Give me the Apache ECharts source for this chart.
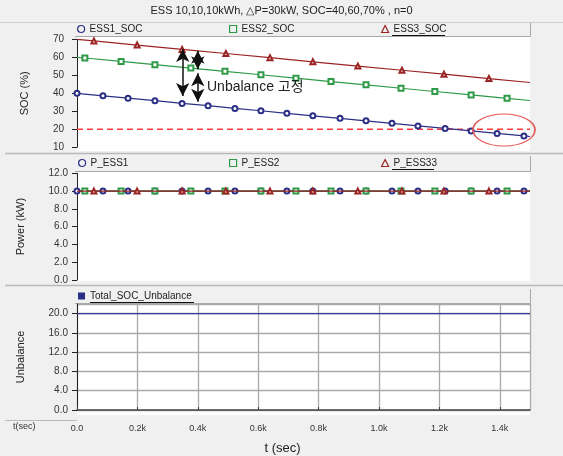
<!DOCTYPE html>
<html>
<head>
<meta charset="utf-8">
<script src="https://cdn.jsdelivr.net/npm/echarts@6/dist/echarts.min.js"></script>
<style>
  html, body { margin: 0; padding: 0; background: #f0f0f0; }
  #main { width: 563px; height: 456px; }
</style>
</head>
<body>
<div id="main"></div>
<script>
// time axis ticks (sec)
const xTicks = [0, 200, 400, 600, 800, 1000, 1200, 1400];

const ess1T = [0, 86, 169, 258, 348, 434, 523, 609, 695, 781, 871, 957, 1043, 1129, 1219, 1305, 1391, 1480, 1500];
const ess1V = [40.0, 38.6, 37.3, 35.9, 34.4, 33.1, 31.6, 30.3, 28.9, 27.5, 26.1, 24.7, 23.3, 21.9, 20.5, 19.1, 17.7, 16.3, 16.0];
const ess2T = [0, 26, 146, 258, 377, 490, 609, 725, 841, 957, 1073, 1185, 1305, 1424, 1500];
const ess2V = [60.0, 59.6, 57.7, 55.9, 54.0, 52.2, 50.3, 48.4, 46.5, 44.7, 42.8, 41.0, 39.1, 37.2, 36.0];
const ess3T = [0, 56, 199, 348, 493, 639, 781, 930, 1076, 1215, 1364, 1500];
const ess3V = [70.0, 69.1, 66.8, 64.4, 62.1, 59.8, 57.5, 55.1, 52.8, 50.6, 48.2, 46.0];

// power (kW)
const p1V = [10.0, 10.0, 10.0, 10.0, 10.0, 10.0, 10.0, 10.0, 10.0, 10.0, 10.0, 10.0, 10.0, 10.0, 10.0, 10.0, 10.0, 10.0, 10.0];
const p2V = [10.0, 10.0, 10.0, 10.0, 10.0, 10.0, 10.0, 10.0, 10.0, 10.0, 10.0, 10.0, 10.0, 10.0, 10.0];
const p3V = [10.0, 10.0, 10.0, 10.0, 10.0, 10.0, 10.0, 10.0, 10.0, 10.0, 10.0, 10.0];

// total unbalance
const unbT = [0, 1500];
const unbV = [20.0, 20.0];

// SOC lower limit (red dashed)
const limitT = [0, 1500];
const limitV = [20, 20];

// annotation arrows (data coords)
const arrows = [
  [[350, 64.6], [350, 38.5]],
  [[400, 63.7], [400, 53.3]],
  [[400, 51.1], [400, 35.3]]
];

const FONT = 'Liberation Sans';
const C1 = '#2b2f86', C2 = '#2f9a48', C3 = '#9b2424';

// markers are drawn on every point except the ones listed in noMark
function pts(ts, vs, noMark) {
  return ts.map((t, i) => noMark.indexOf(i) >= 0
    ? { value: [t, vs[i]], symbol: 'none' }
    : [t, vs[i]]);
}

function yAxisBase(gi, name, min, max, interval, fmt, margin) {
  return {
    gridIndex: gi, type: 'value', min: min, max: max, interval: interval,
    name: name, nameLocation: 'middle', nameGap: gi === 0 ? 47 : 51, nameRotate: 90,
    nameTextStyle: { fontFamily: FONT, fontSize: 11, color: '#222' },
    axisLine: { show: true, lineStyle: { color: '#222', width: 1 } },
    axisTick: { show: true, length: 5, lineStyle: { color: '#222' } },
    axisLabel: { fontFamily: FONT, fontSize: 10, color: '#333', margin: margin, formatter: fmt, showMaxLabel: max % interval === 0 },
    splitLine: { show: gi === 2, lineStyle: { color: '#aaaaaa', width: 1.3 } }
  };
}

function lineSeries(name, xi, ts, vs, noMark, color, symbol, z) {
  return {
    name: name, type: 'line', xAxisIndex: xi, yAxisIndex: xi,
    data: pts(ts, vs, noMark),
    symbol: symbol, symbolSize: 5, showAllSymbol: true,
    lineStyle: { color: color, width: 1.2 },
    itemStyle: { color: color, borderColor: color, borderWidth: 1 },
    z: z, animation: false
  };
}

function legendAt(name, x, y, color, icon, filled) {
  return {
    data: [name], left: x, top: y, padding: 0, itemWidth: 7, itemHeight: 7,
    icon: icon,
    itemStyle: filled ? { color: color } : { color: 'rgba(0,0,0,0)', borderColor: color, borderWidth: 1.2 },
    textStyle: { fontFamily: FONT, fontSize: 10, color: '#222' },
    selectedMode: false
  };
}

const chart = echarts.init(document.getElementById('main'));

const bg = [
  { type: 'line', shape: { x1: 0, y1: 22.5, x2: 563, y2: 22.5 }, style: { stroke: '#cfcfcf', lineWidth: 1 } },
  // legend bars
  { type: 'rect', shape: { x: 75, y: 23, width: 456, height: 14 }, style: { fill: '#eff0ef' } },
  { type: 'polyline', shape: { points: [[75, 36.5], [530.5, 36.5], [530.5, 23]] }, style: { stroke: '#a8a8a8', fill: null, lineWidth: 1 } },
  { type: 'rect', shape: { x: 75, y: 156, width: 456, height: 16 }, style: { fill: '#eff0ef' } },
  { type: 'polyline', shape: { points: [[75, 171.5], [530.5, 171.5], [530.5, 156]] }, style: { stroke: '#a8a8a8', fill: null, lineWidth: 1 } },
  { type: 'rect', shape: { x: 75, y: 289, width: 456, height: 15 }, style: { fill: '#eff0ef' } },
  { type: 'polyline', shape: { points: [[75, 303.5], [530.5, 303.5], [530.5, 289]] }, style: { stroke: '#a8a8a8', fill: null, lineWidth: 1 } },
  // white plot areas
  { type: 'rect', shape: { x: 77, y: 37, width: 453, height: 114 }, style: { fill: '#ffffff' } },
  { type: 'rect', shape: { x: 77, y: 172, width: 453, height: 109 }, style: { fill: '#ffffff' } },
  { type: 'rect', shape: { x: 77, y: 304, width: 453, height: 111 }, style: { fill: '#ffffff' } },
  // panel separators
  { type: 'line', shape: { x1: 5, y1: 153.5, x2: 563, y2: 153.5 }, style: { stroke: '#b9b9b9', lineWidth: 1.5 } },
  { type: 'line', shape: { x1: 5, y1: 285.5, x2: 563, y2: 285.5 }, style: { stroke: '#b9b9b9', lineWidth: 1.5 } },
  { type: 'line', shape: { x1: 5, y1: 420.5, x2: 77, y2: 420.5 }, style: { stroke: '#b9b9b9', lineWidth: 1 } }
];

const fg = [
  { type: 'text', x: 207, y: 80, style: { text: 'Unbalance 고정', fontFamily: 'Liberation Sans, Noto Sans CJK KR', fontSize: 14, fill: '#222' } },
  { type: 'circle', x: 504, y: 130, scaleX: 31 / 16, shape: { cx: 0, cy: 0, r: 16 }, style: { stroke: '#e65a5a', fill: null, lineWidth: 0.9 } },
  { type: 'text', x: 13, y: 422, style: { text: 't(sec)', fontFamily: FONT, fontSize: 9, fill: '#333' } },
  // underlines of the selected legend items
  { type: 'line', shape: { x1: 392, y1: 35.5, x2: 445, y2: 35.5 }, style: { stroke: '#111', lineWidth: 1 } },
  { type: 'line', shape: { x1: 392, y1: 169.5, x2: 434, y2: 169.5 }, style: { stroke: '#111', lineWidth: 1 } },
  { type: 'line', shape: { x1: 90, y1: 302.5, x2: 194, y2: 302.5 }, style: { stroke: '#111', lineWidth: 1 } }
];

const option = {
  animation: false,
  backgroundColor: '#f0f0f0',
  title: {
    text: 'ESS 10,10,10kWh, △P=30kW, SOC=40,60,70% , n=0',
    left: 'center', top: 5, padding: 0,
    textStyle: { fontFamily: FONT, fontSize: 11, fontWeight: 'normal', color: '#222' }
  },
  graphic: {
    elements: bg.map(e => Object.assign({ z: -10, silent: true }, e))
      .concat(fg.map(e => Object.assign({ z: 100, silent: true }, e)))
  },
  legend: [
    legendAt('ESS1_SOC', 77, 24, C1, 'circle', false),
    legendAt('ESS2_SOC', 229, 24, C2, 'rect', false),
    legendAt('ESS3_SOC', 381, 24, C3, 'triangle', false),
    legendAt('P_ESS1', 78, 158, C1, 'circle', false),
    legendAt('P_ESS2', 229, 158, C2, 'rect', false),
    legendAt('P_ESS33', 381, 158, C3, 'triangle', false),
    legendAt('Total_SOC_Unbalance', 78, 291, C1, 'rect', true)
  ],
  grid: [
    { left: 77, width: 453, top: 39.3, height: 108 },
    { left: 77, width: 453, top: 173.3, height: 106.7 },
    { left: 77, width: 453, top: 304, height: 109.3 }
  ],
  xAxis: [
    { gridIndex: 0, type: 'value', min: 0, max: 1500, show: false },
    { gridIndex: 1, type: 'value', min: 0, max: 1500, show: false },
    {
      gridIndex: 2, type: 'value', min: xTicks[0], max: 1500, interval: 200, offset: 9,
      name: 't (sec)', nameLocation: 'middle', nameGap: 23,
      nameTextStyle: { fontFamily: FONT, fontSize: 13, color: '#222', padding: [0, 42, 0, 0] },
      axisLine: { show: true, lineStyle: { color: '#444', width: 1.5 } },
      axisTick: { show: true, inside: true, length: 3, lineStyle: { color: '#444' } },
      axisLabel: {
        fontFamily: FONT, fontSize: 9, color: '#333', margin: 5, showMaxLabel: false,
        formatter: v => v === 0 ? '0.0' : (v / 1000).toFixed(1) + 'k'
      },
      splitLine: { show: true, lineStyle: { color: '#aaaaaa', width: 1.3 } }
    }
  ],
  yAxis: [
    yAxisBase(0, 'SOC (%)', 10, 70, 10, v => String(v), 13),
    yAxisBase(1, 'Power (kW)', 0, 12, 2, v => v.toFixed(1), 9),
    yAxisBase(2, 'Unbalance', 0, 22, 4, v => v.toFixed(1), 9)
  ],
  series: [
    {
      name: 'limit', type: 'line', xAxisIndex: 0, yAxisIndex: 0,
      data: limitT.map((t, i) => [t, limitV[i]]), symbol: 'none', silent: true,
      lineStyle: { color: '#ff3b3b', type: [6, 4], width: 1.5 },
      itemStyle: { color: '#ff3b3b' }, z: 2
    },
    lineSeries('ESS1_SOC', 0, ess1T, ess1V, [ess1T.length - 1], C1, 'emptyCircle', 3),
    Object.assign(lineSeries('ESS2_SOC', 0, ess2T, ess2V, [0, ess2T.length - 1], C2, 'emptyRect', 3), {
      markLine: {
        silent: true, symbol: ['arrow', 'arrow'], symbolSize: [10, 13], animation: false,
        label: { show: false },
        data: arrows.map(a => [
          { coord: a[0], lineStyle: { color: '#111', type: 'solid', width: 1.5 }, itemStyle: { color: '#111' } },
          { coord: a[1] }
        ])
      }
    }),
    lineSeries('ESS3_SOC', 0, ess3T, ess3V, [0, ess3T.length - 1], C3, 'emptyTriangle', 3),
    lineSeries('P_ESS1', 1, ess1T, p1V, [ess1T.length - 1], C1, 'emptyCircle', 3),
    lineSeries('P_ESS2', 1, ess2T, p2V, [0, ess2T.length - 1], C2, 'emptyRect', 3),
    lineSeries('P_ESS33', 1, ess3T, p3V, [0, ess3T.length - 1], C3, 'emptyTriangle', 4),
    {
      name: 'Total_SOC_Unbalance', type: 'line', xAxisIndex: 2, yAxisIndex: 2,
      data: unbT.map((t, i) => [t, unbV[i]]), symbol: 'none',
      lineStyle: { color: '#3a3a9a', width: 1.2 }, itemStyle: { color: C1 }
    }
  ]
};

chart.setOption(option);
</script>
</body>
</html>
